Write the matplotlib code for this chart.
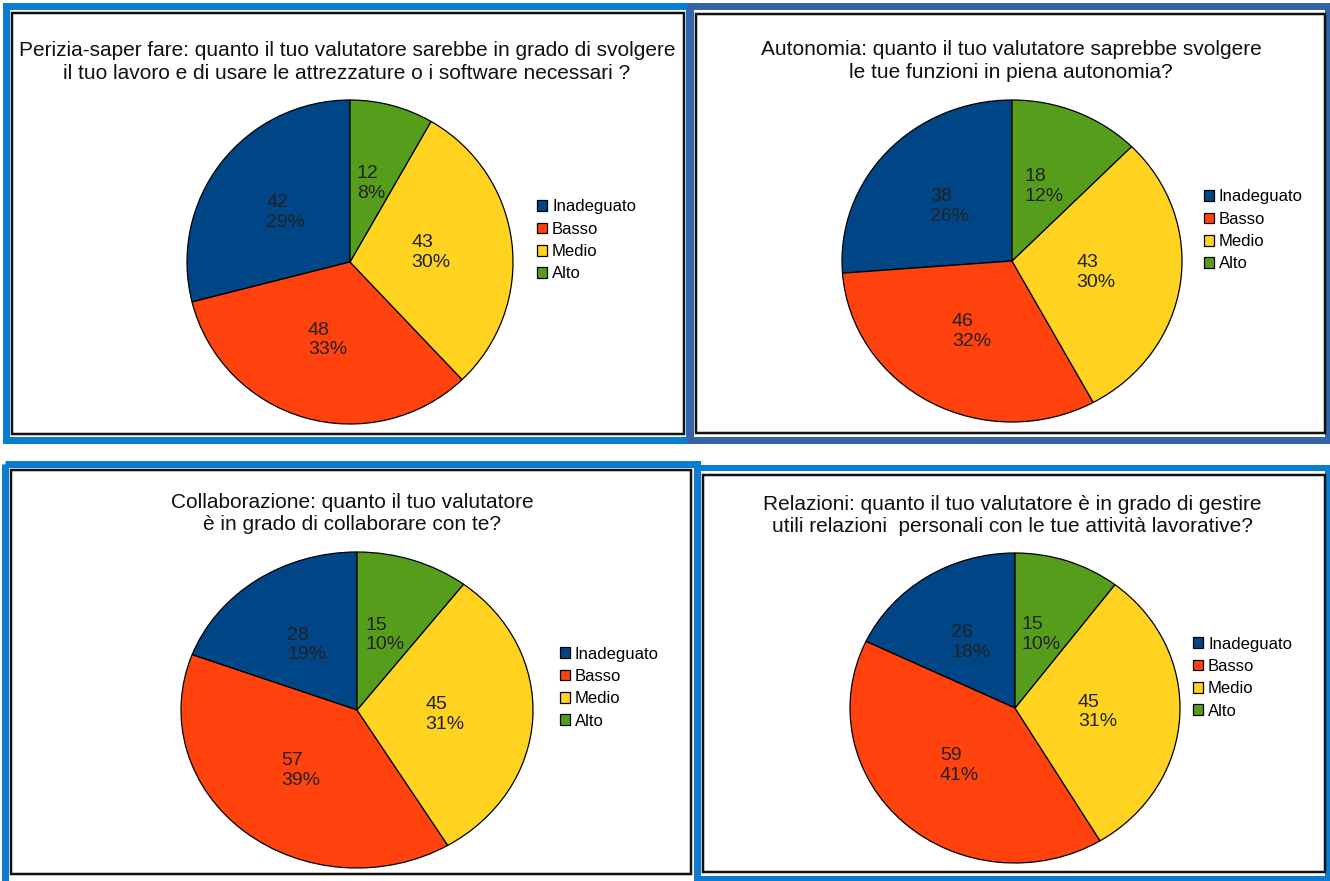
import matplotlib.pyplot as plt
from matplotlib.patches import Rectangle

plt.rcParams['font.family'] = ['Liberation Sans', 'DejaVu Sans']

# Dati
categorie = ['Inadeguato', 'Basso', 'Medio', 'Alto']
colori = ['#004586', '#ff420e', '#ffd320', '#579d1c']

perizia = [42, 48, 43, 12]
autonomia = [38, 46, 43, 18]
collaborazione = [28, 57, 45, 15]
relazioni = [26, 59, 45, 15]

titoli = [
    'Perizia-saper fare: quanto il tuo valutatore sarebbe in grado di svolgere\n'
    'il tuo lavoro e di usare le attrezzature o i software necessari ?',
    'Autonomia: quanto il tuo valutatore saprebbe svolgere\n'
    'le tue funzioni in piena autonomia?',
    'Collaborazione: quanto il tuo valutatore\n'
    'è in grado di collaborare con te?',
    'Relazioni: quanto il tuo valutatore è in grado di gestire\n'
    'utili relazioni  personali con le tue attività lavorative?',
]

W, H = 1330, 881
fig = plt.figure(figsize=(W / 100, H / 100), dpi=100)

# cornici dei quattro riquadri (coordinate in pixel)
bg = fig.add_axes([0, 0, 1, 1])
bg.set_xlim(0, W)
bg.set_ylim(H, 0)
bg.axis('off')

blu = '#0a7dd3'
blu_scuro = '#3563a7'
cornici_blu = [
    (5.5, 5.5, 689, 439.5, blu, 7),
    (5, 464, 697, 895, blu, 7),
    (697, 468, 1328, 879, blu, 6),
    (690, 6, 1328, 440, blu_scuro, 7),
]
for x0, y0, x1, y1, c, lw in cornici_blu:
    bg.add_patch(Rectangle((x0, y0), x1 - x0, y1 - y0, fill=False,
                           edgecolor=c, linewidth=lw * 0.72))

cornici_nere = [
    (11.5, 13, 684, 434),
    (696, 14, 1324.5, 433),
    (11, 470, 691, 874),
    (703, 475, 1324.5, 872),
]
for x0, y0, x1, y1 in cornici_nere:
    bg.add_patch(Rectangle((x0, y0), x1 - x0, y1 - y0, fill=False,
                           edgecolor='#111111', linewidth=2.5 * 0.72))


def torta(valori, titolo, cx, cy, rx, ry, tx, ty, lx, ly):
    ax = fig.add_axes([(cx - rx) / W, 1 - (cy + ry) / H, 2 * rx / W, 2 * ry / H])
    tot = sum(valori)
    wedges, _, testi = ax.pie(valori, colors=colori, startangle=90,
                              counterclock=True, autopct=lambda p: '',
                              pctdistance=0.5,
                              wedgeprops=dict(edgecolor='black', linewidth=0.9,
                                              clip_on=False))
    for t, v in zip(testi, valori):
        t.set_text(f'{v}\n{round(100 * v / tot)}%')
        t.set_fontsize(14)
        t.set_color('#222222')
        t.set_multialignment('left')
    ax.set_aspect('auto')
    ax.set_xlim(-1, 1)
    ax.set_ylim(-1, 1)

    fig.text(tx / W, 1 - ty / H, titolo, ha='center', va='center',
             fontsize=15, linespacing=1.25, color='#111111')

    ax.legend(wedges, categorie, loc='upper left',
              bbox_to_anchor=(lx / W, 1 - ly / H), bbox_transform=fig.transFigure,
              frameon=False, fontsize=12, handlelength=0.6, handleheight=0.6,
              handletextpad=0.3, labelspacing=0.44, borderpad=0, borderaxespad=0)


torta(perizia, titoli[0], 350, 262, 163, 162, 347, 62, 537, 199.5)
torta(autonomia, titoli[1], 1012, 261, 170, 161, 1011, 61, 1204, 189.5)
torta(collaborazione, titoli[2], 357, 710, 176, 158, 352, 513.5, 560, 646.5)
torta(relazioni, titoli[3], 1015, 708, 165, 155, 1012, 515.5, 1193, 636.5)

fig.savefig('out.png', dpi=100, facecolor='white')
